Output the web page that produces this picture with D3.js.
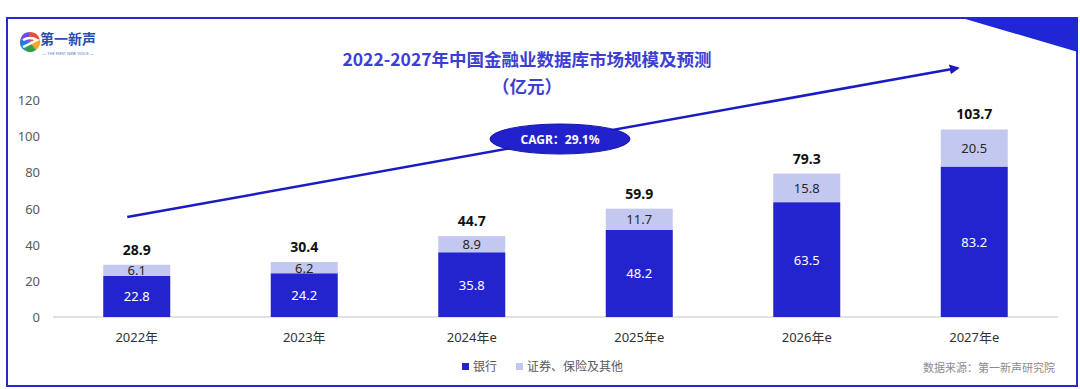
<!DOCTYPE html>
<html>
<head>
<meta charset="utf-8">
<script src="https://cdn.jsdelivr.net/npm/d3@7"></script>
<style>
  body { margin: 0; background: #fff; }
  svg { display: block; font-family: "Noto Sans", "Noto Sans CJK SC", sans-serif; }
</style>
</head>
<body>
<div id="chart"></div>
<script>
const years = ["2022年", "2023年", "2024年e", "2025年e", "2026年e", "2027年e"];
const bank = [22.8, 24.2, 35.8, 48.2, 63.5, 83.2];
const other = [6.1, 6.2, 8.9, 11.7, 15.8, 20.5];
const totals = [28.9, 30.4, 44.7, 59.9, 79.3, 103.7];
const yTicks = [0, 20, 40, 60, 80, 100, 120];
const seriesNames = ["银行", "证券、保险及其他"];
const cagr = "CAGR：29.1%";

const W = 1080, H = 389;
const blue = "#2424cf", light = "#c3c8f1", frame = "#2a2ac6";

var svg = d3.select("#chart").append("svg")
  .attr("width", W).attr("height", H);

// frame + corner triangle
svg.append("rect")
  .attr("x", 7).attr("y", 18).attr("width", 1070).attr("height", 368)
  .attr("fill", "none").attr("stroke", frame).attr("stroke-width", 2);
svg.append("polygon")
  .attr("points", "962,18 1078,18 1078,52")
  .attr("fill", "#1f26d6");

// logo
var logo = svg.append("g").attr("transform", "translate(30,42)");
var cols = ["#e94b3c", "#f5a623", "#2f9e44", "#1c7ed6", "#7048e8"];
cols.forEach(function (c, i) {
  logo.append("path")
    .attr("d", d3.arc()({ innerRadius: 0, outerRadius: 10, startAngle: i * 1.25, endAngle: (i + 1) * 1.25 + 0.02 }))
    .attr("fill", c);
});
logo.append("path").attr("d", "M-7,-2 Q0,-6 7,-2 Q0,2 -7,5").attr("fill", "none")
  .attr("stroke", "#fff").attr("stroke-width", 2.5);
svg.append("text").attr("x", 40).attr("y", 44).text("第一新声")
  .attr("fill", "#2a4fb0").style("font-size", "14px").style("font-weight", "bold")
  .style("font-family", "Noto Sans CJK SC");
svg.append("text").attr("x", 68).attr("y", 55).attr("text-anchor", "middle")
  .text("— THE FIRST NEW VOICE —").attr("fill", "#5a7ac0").style("font-size", "4px");

// title
svg.append("text").attr("x", 527).attr("y", 66).attr("text-anchor", "middle")
  .text("2022-2027年中国金融业数据库市场规模及预测")
  .attr("fill", "#3c40d2").style("font-size", "17.5px").style("font-weight", "bold")
  .style("font-family", "Noto Sans CJK SC");
svg.append("text").attr("x", 527).attr("y", 93).attr("text-anchor", "middle")
  .text("（亿元）")
  .attr("fill", "#3c40d2").style("font-size", "17.5px").style("font-weight", "bold")
  .style("font-family", "Noto Sans CJK SC");

// scales
var x = d3.scaleBand().domain(years).range([53, 1058]).paddingInner(0.6).paddingOuter(0.3);
var y = d3.scaleLinear().domain([0, 120]).range([317, 100]);

// y axis labels
svg.selectAll("text.ytick").data(yTicks).enter().append("text")
  .attr("class", "ytick")
  .attr("x", 40).attr("y", function (d) { return y(d) + 5; })
  .attr("text-anchor", "end")
  .text(function (d) { return d; })
  .attr("fill", "#595959").style("font-size", "13px");

// baseline
svg.append("line").attr("x1", 53).attr("x2", 1058).attr("y1", y(0)).attr("y2", y(0))
  .attr("stroke", "#d9d9d9").attr("stroke-width", 1.5);

// x labels
svg.selectAll("text.xtick").data(years).enter().append("text")
  .attr("class", "xtick")
  .attr("x", function (d) { return x(d) + x.bandwidth() / 2; })
  .attr("y", 342).attr("text-anchor", "middle")
  .text(function (d) { return d; })
  .attr("fill", "#333").style("font-size", "13px");

// bars
var a = years.map(function (k, i) { return { key: k, bank: bank[i], other: other[i], total: totals[i] }; });
svg.selectAll("rect.bank").data(a).enter().append("rect")
  .attr("class", "bank")
  .attr("x", function (d) { return x(d.key); })
  .attr("width", x.bandwidth())
  .attr("y", function (d) { return y(d.bank); })
  .attr("height", function (d) { return y(0) - y(d.bank); })
  .attr("fill", blue);
svg.selectAll("rect.other").data(a).enter().append("rect")
  .attr("class", "other")
  .attr("x", function (d) { return x(d.key); })
  .attr("width", x.bandwidth())
  .attr("y", function (d) { return y(d.bank + d.other); })
  .attr("height", function (d) { return y(d.bank) - y(d.bank + d.other); })
  .attr("fill", light);

// bar labels
svg.selectAll("text.lb").data(a).enter().append("text")
  .attr("class", "lb")
  .attr("x", function (d) { return x(d.key) + x.bandwidth() / 2; })
  .attr("y", function (d) { return (y(0) + y(d.bank)) / 2 + 5; })
  .attr("text-anchor", "middle").text(function (d) { return d.bank; })
  .attr("fill", "#fff").style("font-size", "13px");
svg.selectAll("text.lo").data(a).enter().append("text")
  .attr("class", "lo")
  .attr("x", function (d) { return x(d.key) + x.bandwidth() / 2; })
  .attr("y", function (d) { return (y(d.bank) + y(d.bank + d.other)) / 2 + 5; })
  .attr("text-anchor", "middle").text(function (d) { return d.other; })
  .attr("fill", "#262626").style("font-size", "13px");
svg.selectAll("text.lt").data(a).enter().append("text")
  .attr("class", "lt")
  .attr("x", function (d) { return x(d.key) + x.bandwidth() / 2; })
  .attr("y", function (d) { return y(d.total) - 10; })
  .attr("text-anchor", "middle").text(function (d) { return d.total; })
  .attr("fill", "#111").style("font-size", "14px").style("font-weight", "bold");

// growth arrow
svg.append("defs").append("marker")
  .attr("id", "arr").attr("viewBox", "0 0 10 10").attr("refX", 8).attr("refY", 5)
  .attr("markerWidth", 4).attr("markerHeight", 4).attr("orient", "auto")
  .append("path").attr("d", "M0,0 L10,5 L0,10 z").attr("fill", "#1b1bc4");
var x0 = x(years[0]) + 24, x1 = x(years[5]) + 17;
var y0 = y(55.3), y1 = y(137.7);
svg.append("line")
  .attr("x1", x0).attr("y1", y0).attr("x2", x1).attr("y2", y1)
  .attr("stroke", "#1b1bc4").attr("stroke-width", 2.5)
  .attr("marker-end", "url(#arr)");

// CAGR bubble
svg.append("ellipse").attr("cx", 560).attr("cy", 139).attr("rx", 70).attr("ry", 15)
  .attr("fill", "#2222cc").attr("stroke", "#1515a8").attr("stroke-width", 1);
svg.append("text").attr("x", 560).attr("y", 144).attr("text-anchor", "middle")
  .text(cagr).attr("fill", "#fff").style("font-size", "12px").style("font-weight", "bold");

// legend
var leg = [{ name: seriesNames[0], c: blue, x: 462 }, { name: seriesNames[1], c: light, x: 516 }];
leg.forEach(function (l) {
  svg.append("rect").attr("x", l.x).attr("y", 363).attr("width", 7).attr("height", 7).attr("fill", l.c);
  svg.append("text").attr("x", l.x + 11).attr("y", 371).text(l.name)
    .attr("fill", "#595959").style("font-size", "12px").style("font-family", "Noto Sans CJK SC");
});

// source
svg.append("text").attr("x", 1055).attr("y", 372).attr("text-anchor", "end")
  .text("数据来源：第一新声研究院")
  .attr("fill", "#8c8c8c").style("font-size", "11px").style("font-family", "Noto Sans CJK SC");
</script>
</body>
</html>
